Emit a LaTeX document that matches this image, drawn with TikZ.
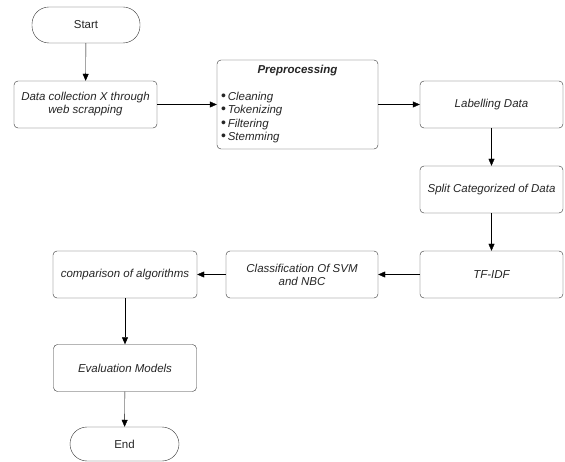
\documentclass[tikz,border=0pt]{standalone}
\usepackage{fontspec}
\setmainfont{Liberation Sans}
\usepackage{tikz}
\usetikzlibrary{arrows.meta,positioning}
\newcommand{\listdot}{{\upshape\fontsize{14}{13.5}\selectfont\textbullet}}
\tikzset{
    flow-box/.style = {draw=black!80, fill=white, thin, rectangle, rounded corners=4pt, minimum width=143pt, minimum height=47pt, align=center, text=black!85, font=\itshape\fontsize{11.5}{13}\selectfont},
    term-box/.style = {draw=black!80, fill=white, thin, rectangle, rounded corners=17pt, minimum width=108pt, minimum height=36pt, text=black!85, font=\fontsize{11.5}{13}\selectfont},
    flow-arrow/.style = {draw=black, thin, -{Triangle[length=7pt,width=6pt]}},
}

\begin{document}
\begin{tikzpicture}[x=1pt,y=-1pt]
\useasboundingbox (0,0) rectangle (565,462);
\node [term-box] (start) at (86,25) {Start};
\node [flow-box] (collect) at (85.5,104.5) {Data collection X through\\web scrapping};
\node [flow-box, minimum width=161pt, minimum height=89pt] (prep) at (297.5,104.5) {};
\node [font=\bfseries\itshape\fontsize{11.5}{13}\selectfont, text=black!85, below=2pt] (prep-title) at (prep.north) {Preprocessing};
\node [anchor=north west, align=left, inner sep=0pt, text=black!85, font=\itshape\fontsize{11.5}{13.5}\selectfont] (prep-list) at ([xshift=4pt,yshift=-32pt]prep.north west) {%
    \listdot\,Cleaning\\\listdot\,Tokenizing\\\listdot\,Filtering\\\listdot\,Stemming};
\node [flow-box] (label) at (491.5,104.5) {Labelling Data};
\node [flow-box] (split) at (491.5,189.5) {Split Categorized of Data};
\node [flow-box] (tfidf) at (491.5,274.5) {TF-IDF};
\node [flow-box, minimum width=152pt] (classify) at (302,274.5) {Classification Of SVM\\and NBC};
\node [flow-box, minimum width=144pt] (compare) at (125,274.5) {comparison of algorithms};
\node [flow-box] (eval) at (125,368) {Evaluation Models};
\node [term-box, minimum width=109pt, minimum height=34pt] (end) at (124.5,444) {End};

\draw [flow-arrow] (start) -- (collect);
\draw [flow-arrow] (collect) -- (prep);
\draw [flow-arrow] (prep) -- (label);
\draw [flow-arrow] (label) -- (split);
\draw [flow-arrow] (split) -- (tfidf);
\draw [flow-arrow] (tfidf) -- (classify);
\draw [flow-arrow] (classify) -- (compare);
\draw [flow-arrow] (compare) -- (eval);
\draw [flow-arrow] (eval) -- (end);
\end{tikzpicture}
\end{document}
